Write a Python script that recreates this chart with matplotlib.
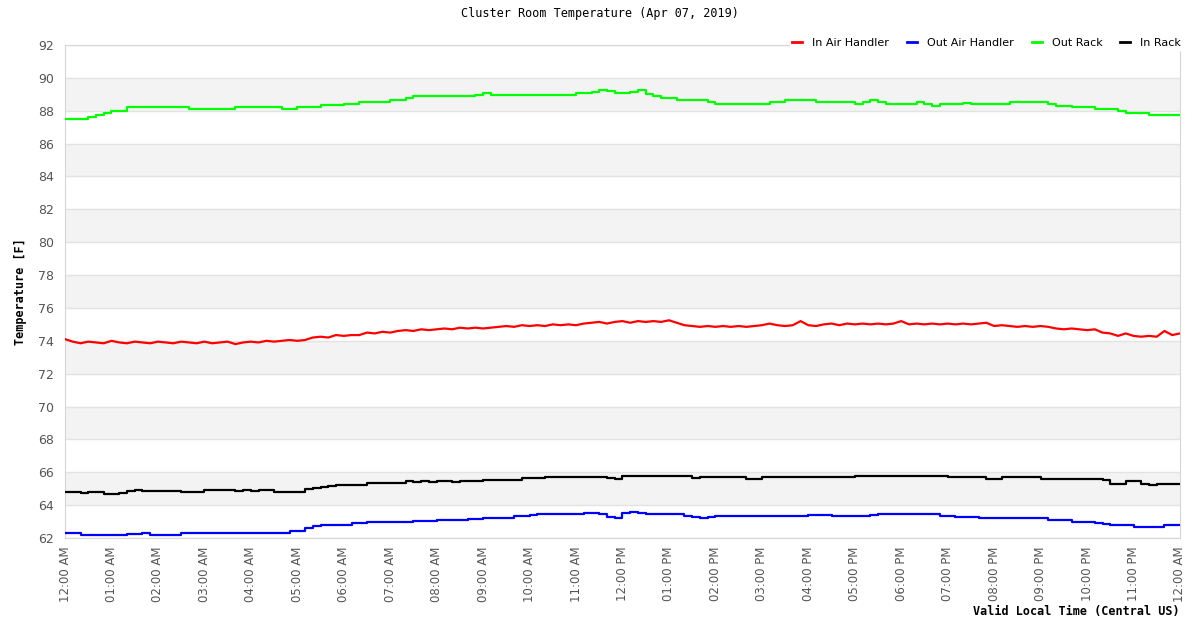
import matplotlib
matplotlib.use("Agg")
import matplotlib.pyplot as plt
import matplotlib.dates as mdates
import pandas as pd

# 10 minute readings, Apr 07 2019 00:00 -> Apr 08 00:00
times = pd.date_range("2019-04-07 00:00", periods=145, freq="10min")

in_air = [74.1, 73.95, 73.85, 73.95, 73.9, 73.85, 74.0, 73.9, 73.85, 73.95,
          73.9, 73.85, 73.95, 73.9, 73.85, 73.95, 73.9, 73.85, 73.95, 73.85,
          73.9, 73.95, 73.8, 73.9, 73.95, 73.9, 74.0, 73.95, 74.0, 74.05,
          74.0, 74.05, 74.2, 74.25, 74.2, 74.35, 74.3, 74.35, 74.35, 74.5,
          74.45, 74.55, 74.5, 74.6, 74.65, 74.6, 74.7, 74.65, 74.7, 74.75,
          74.7, 74.8, 74.75, 74.8, 74.75, 74.8, 74.85, 74.9, 74.85, 74.95,
          74.9, 74.95, 74.9, 75.0, 74.95, 75.0, 74.95, 75.05, 75.1, 75.15,
          75.05, 75.15, 75.2, 75.1, 75.2, 75.15, 75.2, 75.15, 75.25, 75.1,
          74.95, 74.9, 74.85, 74.9, 74.85, 74.9, 74.85, 74.9, 74.85, 74.9,
          74.95, 75.05, 74.95, 74.9, 74.95, 75.2, 74.95, 74.9, 75.0, 75.05,
          74.95, 75.05, 75.0, 75.05, 75.0, 75.05, 75.0, 75.05, 75.2, 75.0,
          75.05, 75.0, 75.05, 75.0, 75.05, 75.0, 75.05, 75.0, 75.05, 75.1,
          74.9, 74.95, 74.9, 74.85, 74.9, 74.85, 74.9, 74.85, 74.75, 74.7,
          74.75, 74.7, 74.65, 74.7, 74.5, 74.45, 74.3, 74.45, 74.3, 74.25,
          74.3, 74.25, 74.6, 74.35, 74.45]

out_air = [62.28, 62.28, 62.2, 62.2, 62.2, 62.2, 62.2, 62.2, 62.22, 62.25,
           62.28, 62.2, 62.18, 62.18, 62.18, 62.32, 62.32, 62.32, 62.32, 62.32,
           62.32, 62.32, 62.32, 62.32, 62.32, 62.32, 62.32, 62.32, 62.32, 62.45,
           62.45, 62.6, 62.72, 62.77, 62.8, 62.8, 62.8, 62.92, 62.92, 62.95,
           62.98, 62.98, 62.98, 62.98, 63.0, 63.06, 63.06, 63.06, 63.08, 63.08,
           63.08, 63.08, 63.17, 63.17, 63.23, 63.23, 63.23, 63.23, 63.33, 63.33,
           63.4, 63.45, 63.45, 63.45, 63.45, 63.45, 63.47, 63.5, 63.5, 63.45,
           63.3, 63.23, 63.5, 63.57, 63.5, 63.47, 63.47, 63.47, 63.47, 63.45,
           63.33, 63.28, 63.23, 63.3, 63.33, 63.33, 63.33, 63.33, 63.33, 63.33,
           63.33, 63.33, 63.33, 63.33, 63.33, 63.33, 63.37, 63.37, 63.37, 63.33,
           63.33, 63.33, 63.33, 63.33, 63.4, 63.45, 63.45, 63.45, 63.45, 63.45,
           63.45, 63.45, 63.45, 63.35, 63.35, 63.27, 63.27, 63.27, 63.23, 63.23,
           63.23, 63.23, 63.23, 63.23, 63.23, 63.23, 63.23, 63.08, 63.08, 63.08,
           62.96, 62.96, 62.96, 62.9, 62.85, 62.77, 62.77, 62.77, 62.7, 62.67,
           62.67, 62.67, 62.78, 62.8, 62.8]

out_rack = [87.48, 87.48, 87.48, 87.6, 87.73, 87.88, 87.96, 87.96, 88.22, 88.22,
            88.22, 88.22, 88.22, 88.22, 88.22, 88.22, 88.12, 88.08, 88.08, 88.08,
            88.08, 88.08, 88.22, 88.22, 88.22, 88.22, 88.22, 88.22, 88.1, 88.1,
            88.22, 88.22, 88.22, 88.32, 88.32, 88.32, 88.42, 88.42, 88.52, 88.52,
            88.55, 88.55, 88.64, 88.64, 88.76, 88.88, 88.88, 88.88, 88.88, 88.88,
            88.88, 88.88, 88.88, 88.94, 89.06, 88.96, 88.96, 88.96, 88.96, 88.98,
            88.96, 88.96, 88.96, 88.96, 88.96, 88.96, 89.06, 89.06, 89.12, 89.28,
            89.18, 89.06, 89.06, 89.17, 89.28, 89.04, 88.92, 88.76, 88.76, 88.66,
            88.66, 88.66, 88.66, 88.54, 88.42, 88.42, 88.42, 88.4, 88.4, 88.42,
            88.42, 88.52, 88.52, 88.64, 88.64, 88.64, 88.64, 88.52, 88.52, 88.52,
            88.52, 88.52, 88.44, 88.53, 88.64, 88.53, 88.42, 88.42, 88.42, 88.42,
            88.52, 88.42, 88.3, 88.44, 88.44, 88.44, 88.5, 88.4, 88.4, 88.4,
            88.4, 88.4, 88.52, 88.52, 88.52, 88.52, 88.52, 88.4, 88.28, 88.28,
            88.22, 88.22, 88.22, 88.1, 88.1, 88.1, 87.96, 87.86, 87.86, 87.86,
            87.73, 87.73, 87.73, 87.73, 87.73]

in_rack = [64.78, 64.8, 64.75, 64.8, 64.78, 64.68, 64.68, 64.72, 64.88, 64.9,
           64.84, 64.84, 64.84, 64.84, 64.84, 64.8, 64.8, 64.8, 64.92, 64.92,
           64.92, 64.9, 64.85, 64.92, 64.86, 64.92, 64.92, 64.78, 64.78, 64.78,
           64.78, 64.98, 65.05, 65.12, 65.15, 65.2, 65.2, 65.2, 65.25, 65.32,
           65.32, 65.32, 65.32, 65.35, 65.44, 65.4, 65.44, 65.4, 65.44, 65.44,
           65.4, 65.44, 65.44, 65.44, 65.54, 65.5, 65.54, 65.54, 65.54, 65.64,
           65.64, 65.64, 65.74, 65.7, 65.74, 65.74, 65.74, 65.74, 65.74, 65.74,
           65.68, 65.62, 65.78, 65.78, 65.78, 65.78, 65.78, 65.78, 65.78, 65.78,
           65.78, 65.65, 65.7, 65.7, 65.7, 65.7, 65.7, 65.7, 65.6, 65.6,
           65.7, 65.7, 65.7, 65.7, 65.7, 65.7, 65.7, 65.7, 65.7, 65.7,
           65.7, 65.7, 65.76, 65.76, 65.76, 65.78, 65.78, 65.78, 65.78, 65.78,
           65.78, 65.78, 65.78, 65.8, 65.7, 65.7, 65.7, 65.7, 65.7, 65.6,
           65.6, 65.72, 65.72, 65.72, 65.72, 65.72, 65.62, 65.62, 65.62, 65.62,
           65.62, 65.62, 65.62, 65.6, 65.5, 65.3, 65.3, 65.44, 65.44, 65.3,
           65.24, 65.3, 65.3, 65.3, 65.3]

series_names = ["In Air Handler", "Out Air Handler", "Out Rack", "In Rack"]
series_colors = ["#ff0000", "#0000ff", "#00ff00", "#000000"]
series_steps = ["default", "steps-post", "steps-post", "steps-post"]
y_ticks = list(range(62, 93, 2))

mono = ["DejaVu Sans Mono"]

fig = plt.figure(figsize=(12, 6.28), dpi=100)
ax = fig.add_axes([0.0542, 0.1433, 0.9291, 0.785])

# alternating grey bands
for lo in range(64, 92, 4):
    ax.axhspan(lo, lo + 2, color="#f3f3f3", zorder=0, lw=0)
for t in y_ticks:
    ax.axhline(t, color="#e3e3e3", lw=1, zorder=1)

for vals, name, col, ds in zip([in_air, out_air, out_rack, in_rack], series_names,
                               series_colors, series_steps):
    ax.plot(times, vals, color=col, lw=1.6, label=name, drawstyle=ds, zorder=3)

ax.set_xlim(times[0], times[-1])
ax.set_ylim(62, 92)
ax.set_yticks(y_ticks)
ax.xaxis.set_major_locator(mdates.HourLocator(interval=1))
ax.xaxis.set_major_formatter(mdates.DateFormatter("%I:%M %p"))
ax.tick_params(axis="x", rotation=90, length=0, labelsize=8.5, colors="#555555", pad=6)
ax.tick_params(axis="y", length=0, labelsize=9, colors="#555555", pad=8)
for s in ax.spines.values():
    s.set_color("#d6d6d6")

fig.text(0.5, 0.978, "Cluster Room Temperature (Apr 07, 2019)", ha="center", va="center",
         family=mono, fontsize=8.5)
ax.set_ylabel("Temperature [F]", family=mono, fontweight="bold", fontsize=8.5, labelpad=8)
fig.text(0.9833, 0.027, "Valid Local Time (Central US)", ha="right", va="center",
         family=mono, fontweight="bold", fontsize=8.5)

leg = ax.legend(loc="lower right", bbox_to_anchor=(1.003, 0.989), ncol=4, frameon=True,
                fontsize=8, handlelength=0.9, handletextpad=0.9, columnspacing=1.6,
                borderpad=0.2, borderaxespad=0)
leg.get_frame().set_edgecolor("white")
leg.get_frame().set_facecolor("white")
leg.get_frame().set_alpha(1)
leg.set_zorder(5)
for h in leg.get_lines():
    h.set_linewidth(2)

fig.savefig("out.png", dpi=100)
